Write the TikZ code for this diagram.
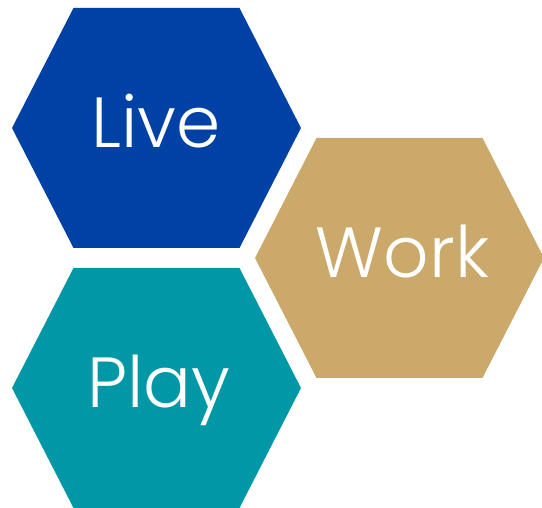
\documentclass[tikz,border=0pt]{standalone}
\usepackage{fontspec}
\setmainfont{Poppins}[UprightFont=* Light]
\usepackage{tikz}
\usetikzlibrary{positioning}

\definecolor{liveblue}{RGB}{0,65,166}
\definecolor{workgold}{RGB}{203,169,107}
\definecolor{playteal}{RGB}{0,152,166}

\begin{document}
\begin{tikzpicture}[
    x=1pt, y=-1pt,
    hexpath/.style={insert path={++(-144.5,0) -- ++(61.5,-120) -- ++(166,0)
        -- ++(61.5,120) -- ++(-61.5,120) -- ++(-166,0) -- cycle}},
    hexlabel/.style={text=white, font=\fontsize{71}{75}\selectfont, inner sep=0pt, anchor=base}
    ]
        \useasboundingbox (0,0) rectangle (542,508);

        %Hexagons
        \fill[liveblue] (156.5,128) [hexpath];
        \fill[workgold] (399.5,258) [hexpath];
        \fill[playteal] (156.5,388) [hexpath];

        %Labels
        \node[hexlabel] (live) at (156,148) {Live};
        \node[hexlabel] (work) at (402.5,278) {Work};
        \node[hexlabel] (play) at (158.5,408) {Play};
    \end{tikzpicture}
\end{document}
